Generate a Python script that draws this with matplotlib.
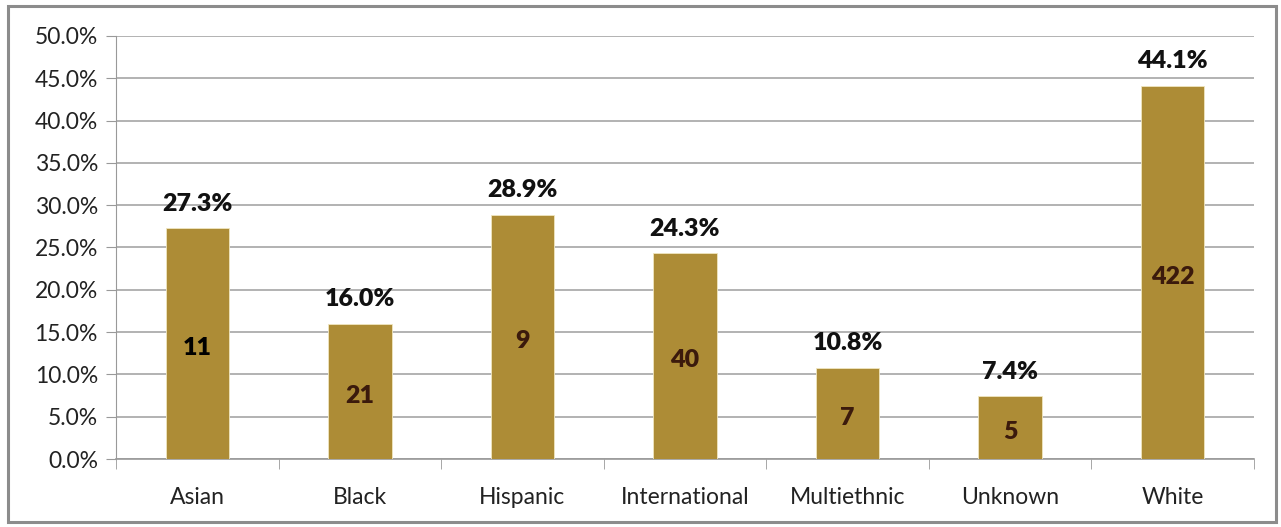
import matplotlib.pyplot as plt
from matplotlib.patches import Rectangle
from matplotlib.ticker import FuncFormatter, MultipleLocator

groups = ["Asian", "Black", "Hispanic", "International", "Multiethnic", "Unknown", "White"]
pct = [27.3, 16.0, 28.9, 24.3, 10.8, 7.4, 44.1]
counts = [11, 21, 9, 40, 7, 5, 422]
count_colors = ["#000000", "#3b1a0c", "#3b1a0c", "#3b1a0c", "#3b1a0c", "#3b1a0c", "#3b1a0c"]

plt.rcParams["font.family"] = ["Lato", "DejaVu Sans"]

fig = plt.figure(figsize=(12.81, 5.27), dpi=100)
ax = fig.add_axes([116 / 1281, 1 - 459 / 527, (1254 - 116) / 1281, (459 - 36) / 527])

x = range(len(groups))
bars = ax.bar(x, pct, width=0.39, color="#ad8c36", edgecolor="#f0e6c0", linewidth=0.6, zorder=3)

for i, b in enumerate(bars):
    h = b.get_height()
    ax.text(b.get_x() + b.get_width() / 2, h + 1.6, f"{h:.1f}%", ha="center", va="bottom",
            fontsize=18, fontweight="heavy", color="#111111")
    ax.text(b.get_x() + b.get_width() / 2, h / 2 - 0.5, str(counts[i]), ha="center", va="center",
            fontsize=18, fontweight="heavy", color=count_colors[i])

ax.set_xlim(-0.5, len(groups) - 0.5)
ax.set_ylim(0, 50)
ax.yaxis.set_major_locator(MultipleLocator(5))
ax.yaxis.set_major_formatter(FuncFormatter(lambda v, p: f"{v:.1f}%"))
ax.set_xticks(list(x))
ax.set_xticklabels(groups)
ax.set_xticks([i + 0.5 for i in range(-1, len(groups))], minor=True)
ax.tick_params(axis="x", which="major", length=0, pad=20, labelsize=16.5, labelcolor="#222222")
ax.tick_params(axis="x", which="minor", length=7, color="#999999", direction="out")
ax.tick_params(axis="y", length=7, color="#999999", labelsize=16.5, labelcolor="#222222", pad=6)

ax.grid(axis="y", color="#a6a6a6", linewidth=1.2, zorder=0)
for s in ["top", "right"]:
    ax.spines[s].set_visible(False)
ax.spines["left"].set_color("#999999")
ax.spines["bottom"].set_color("#999999")
ax.spines["bottom"].set_linewidth(1.2)

fig.patches.append(Rectangle((8 / 1281, 5 / 527), (1276 - 8) / 1281, (521 - 5) / 527,
                             transform=fig.transFigure, fill=False, edgecolor="#8c8c8c", linewidth=2.2))

fig.savefig("out.png", dpi=100)
